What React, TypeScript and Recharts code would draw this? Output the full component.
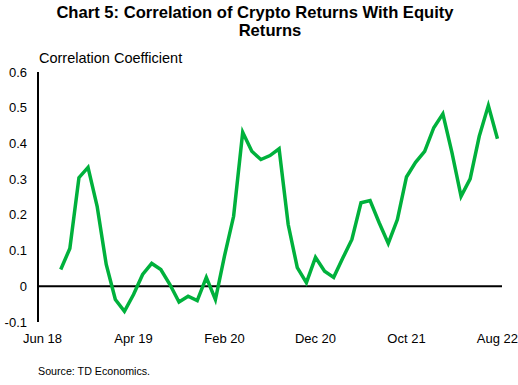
import React from "react";
import { LineChart, Line, XAxis, YAxis, ReferenceLine } from "recharts";

const months: string[] = [
  "Jun 18", "Jul 18", "Aug 18", "Sep 18", "Oct 18", "Nov 18", "Dec 18",
  "Jan 19", "Feb 19", "Mar 19", "Apr 19", "May 19", "Jun 19", "Jul 19", "Aug 19", "Sep 19", "Oct 19", "Nov 19", "Dec 19",
  "Jan 20", "Feb 20", "Mar 20", "Apr 20", "May 20", "Jun 20", "Jul 20", "Aug 20", "Sep 20", "Oct 20", "Nov 20", "Dec 20",
  "Jan 21", "Feb 21", "Mar 21", "Apr 21", "May 21", "Jun 21", "Jul 21", "Aug 21", "Sep 21", "Oct 21", "Nov 21", "Dec 21",
  "Jan 22", "Feb 22", "Mar 22", "Apr 22", "May 22", "Jun 22", "Jul 22", "Aug 22",
];

const correlation: (number | null)[] = [
  null, null, 0.047, 0.106, 0.304, 0.333, 0.224,
  0.061, -0.037, -0.07, -0.023, 0.033, 0.064, 0.047, 0.005, -0.044, -0.028, -0.04, 0.025,
  -0.037, 0.085, 0.196, 0.431, 0.378, 0.355, 0.366, 0.385, 0.173, 0.052, 0.01, 0.081,
  0.042, 0.025, 0.079, 0.131, 0.234, 0.24, 0.178, 0.12, 0.187, 0.306, 0.347, 0.378,
  0.444, 0.483, 0.374, 0.252, 0.301, 0.42, 0.506, 0.413,
];

const yTicks: number[] = [-0.1, 0, 0.1, 0.2, 0.3, 0.4, 0.5, 0.6];

const data = months.map((m, i) => ({ month: m, value: correlation[i] }));

const FONT = "'Liberation Sans', Arial, sans-serif";

export default function App() {
  return (
    <div style={{ position: "absolute", left: 0, top: 0, width: 518, height: 385, fontFamily: FONT, background: "#fff" }}>
      <div style={{ position: "absolute", left: 0, top: 4, width: 510, textAlign: "center", fontSize: 16.6, fontWeight: "bold", lineHeight: "17px", color: "#000", whiteSpace: "nowrap" }}>
        Chart 5: Correlation of Crypto Returns With Equity
      </div>
      <div style={{ position: "absolute", left: 0, top: 22, width: 540, textAlign: "center", fontSize: 16.6, fontWeight: "bold", lineHeight: "17px", color: "#000", whiteSpace: "nowrap" }}>
        Returns
      </div>
      <div style={{ position: "absolute", left: 39, top: 50, fontSize: 14.5, color: "#000", whiteSpace: "nowrap" }}>Correlation Coefficient</div>
      <div style={{ position: "absolute", left: 38, top: 365, fontSize: 10.7, color: "#000", whiteSpace: "nowrap" }}>Source: TD Economics.</div>
      <div style={{ position: "absolute", left: 0, top: 0 }}>
        <LineChart width={518} height={385} data={data} margin={{ top: 72, right: 16, bottom: 33, left: 8 }}>
          <XAxis
            dataKey="month"
            interval={9}
            axisLine={false}
            tickLine={false}
            tickMargin={6}
            height={30}
            padding={{ left: 4.55, right: 4.55 }}
            tick={{ fill: "#000", fontSize: 13, fontFamily: FONT }}
          />
          <YAxis
            width={30}
            domain={[-0.1, 0.6]}
            ticks={yTicks}
            interval={0}
            axisLine={{ stroke: "#000", strokeWidth: 2 }}
            tickLine={false}
            tickMargin={5}
            tick={{ fill: "#000", fontSize: 13, fontFamily: FONT }}
          />
          <ReferenceLine y={0} stroke="#000" strokeWidth={2} />
          <Line
            type="linear"
            dataKey="value"
            stroke="#00B13C"
            strokeWidth={3.5}
            dot={false}
            activeDot={false}
            connectNulls={false}
            isAnimationActive={false}
          />
        </LineChart>
      </div>
    </div>
  );
}
